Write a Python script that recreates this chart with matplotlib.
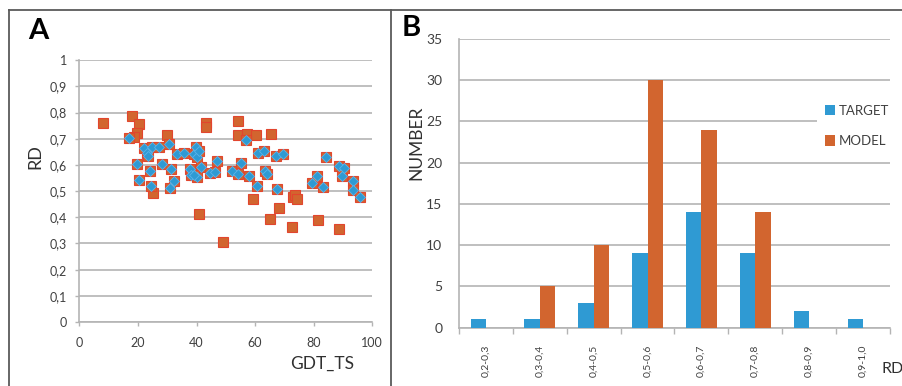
import numpy as np
import matplotlib
matplotlib.use("Agg")
import matplotlib.pyplot as plt
from matplotlib.lines import Line2D

plt.rcParams['font.family'] = ['Lato', 'DejaVu Sans']

# panel A: GDT_TS vs RD
# target points (blue diamonds)
target_gdt = [17.1, 19.8, 20.3, 22.1, 23.0, 23.5, 24.7, 24.2, 24.6, 27.3, 28.3, 30.6,
              31.2, 31.1, 32.4, 33.2, 35.8, 37.8, 38.1, 39.1, 39.8, 40.0, 40.0, 40.8,
              41.5, 39.2, 44.6, 46.3, 47.1, 52.2, 54.3, 55.1, 56.8, 57.8, 60.5, 60.9,
              63.1, 63.5, 63.9, 67.1, 67.6, 69.4, 79.5, 81.0, 83.3, 84.1, 88.6, 89.5,
              90.4, 93.3, 93.3, 95.8]
target_rd = [0.705, 0.604, 0.543, 0.664, 0.645, 0.634, 0.668, 0.578, 0.521, 0.670, 0.604, 0.680,
             0.583, 0.511, 0.539, 0.642, 0.647, 0.583, 0.562, 0.642, 0.670, 0.632, 0.555, 0.655,
             0.594, 0.560, 0.571, 0.575, 0.617, 0.577, 0.566, 0.609, 0.696, 0.558, 0.521, 0.645,
             0.655, 0.577, 0.564, 0.634, 0.507, 0.642, 0.530, 0.558, 0.515, 0.629, 0.597, 0.559,
             0.587, 0.540, 0.504, 0.479]
# model points without a target on top (orange squares)
model_gdt_extra = [8.2, 17.9, 20.5, 19.8, 18.5, 29.8, 43.2, 43.2, 54.3, 54.0, 57.3, 60.2,
                   65.3, 41.0, 49.1, 25.0, 59.2, 65.1, 68.3, 72.8, 73.6, 74.4, 72.7, 81.6, 88.7]
model_rd_extra = [0.759, 0.789, 0.757, 0.721, 0.708, 0.715, 0.762, 0.746, 0.769, 0.715, 0.718, 0.715,
                  0.718, 0.414, 0.304, 0.492, 0.469, 0.392, 0.434, 0.479, 0.485, 0.470, 0.363, 0.389, 0.354]

# panel B: histogram of RD
bins = ['0,2-0,3', '0,3-0,4', '0,4-0,5', '0,5-0,6', '0,6-0,7', '0,7-0,8', '0,8-0,9', '0,9-1,0']
target_counts = [1, 1, 3, 9, 14, 9, 2, 1]
model_counts = [0, 5, 10, 30, 24, 14, 0, 0]

W, H = 903, 386
blue = '#2F9AD3'
orange = '#D2652F'
grid_c = '#B4B4B4'
txt_c = '#404040'

fig = plt.figure(figsize=(W / 100, H / 100), dpi=100)


def px_axes(x0, y0, x1, y1):
    return fig.add_axes([x0 / W, 1 - y1 / H, (x1 - x0) / W, (y1 - y0) / H])


# ---- panel A ----
axA = px_axes(79.3, 60.3, 372.3, 322)
model_gdt = model_gdt_extra + target_gdt
model_rd = model_rd_extra + target_rd
axA.plot(model_gdt, model_rd, ls='none', marker='s', ms=7.6, mfc=orange, mec='#E2452E', mew=0.8)
axA.plot(target_gdt, target_rd, ls='none', marker='D', ms=5.2, mfc=blue, mec='#5BB4EA', mew=0.6)
axA.set_xlim(0, 100)
axA.set_ylim(0, 1)
axA.set_xticks(np.arange(0, 101, 20))
axA.set_yticks(np.arange(0, 1.01, 0.1))
axA.set_yticklabels(['0' if v == 0 else ('1' if v == 1 else ('%.1f' % v).replace('.', ','))
                     for v in np.arange(0, 1.01, 0.1)])
axA.yaxis.grid(True, color=grid_c, lw=1.2)
axA.set_axisbelow(True)
for s in ['top', 'right']:
    axA.spines[s].set_visible(False)
for s in ['left', 'bottom']:
    axA.spines[s].set_color(grid_c)
    axA.spines[s].set_linewidth(1.2)
axA.tick_params(axis='both', colors=grid_c, length=3, width=1, labelsize=9, labelcolor=txt_c)
axA.tick_params(axis='x', pad=8)
axA.tick_params(axis='y', pad=6)

# ---- panel B ----
axB = px_axes(459, 39, 890, 327.7)
x = np.arange(len(bins))
w = 0.285
axB.bar(x - w / 2, target_counts, w, color=blue, label='TARGET', zorder=3)
axB.bar(x + w / 2, model_counts, w, color=orange, label='MODEL', zorder=3)
axB.set_xlim(-0.5, len(bins) - 0.5)
axB.set_ylim(0, 35)
axB.set_yticks(np.arange(0, 36, 5))
axB.set_xticks(x)
axB.set_xticklabels(bins, rotation=90, color=txt_c,
                    family=['Liberation Sans Narrow', 'Lato'], fontsize=7.5)
axB.set_xticks(np.arange(-0.5, len(bins), 1), minor=True)
axB.tick_params(axis='x', which='major', length=0, pad=12)
axB.tick_params(axis='x', which='minor', length=4, color=grid_c, width=1)
axB.tick_params(axis='y', length=0, pad=12, labelsize=10, labelcolor=txt_c)
axB.yaxis.grid(True, color=grid_c, lw=1.2)
axB.set_axisbelow(True)
for s in ['top', 'right']:
    axB.spines[s].set_visible(False)
for s in ['left', 'bottom']:
    axB.spines[s].set_color(grid_c)
    axB.spines[s].set_linewidth(1.2)
leg = axB.legend(loc='upper left', bbox_to_anchor=(0.83, 0.80), frameon=True, fontsize=9.5,
                 handlelength=0.8, handleheight=0.8, handletextpad=0.3, labelspacing=1.4,
                 borderpad=0.6, borderaxespad=0, fancybox=False, edgecolor='none',
                 facecolor='white', framealpha=1)
for t in leg.get_texts():
    t.set_color(txt_c)

# axis titles placed like the original Excel layout
fig.text(35 / W, 1 - 157 / H, 'RD', rotation=90, ha='center', va='center', fontsize=13, color='#303030')
fig.text(322 / W, 1 - 364 / H, 'GDT_TS', ha='center', va='center', fontsize=12.5, color='#303030')
fig.text(416 / W, 1 - 143 / H, 'NUMBER', rotation=90, ha='center', va='center', fontsize=12.5, color='#303030')
fig.text(882 / W, 1 - 369 / H, 'RD', ha='left', va='center', fontsize=11.5, color='#303030')

# panel letters
fig.text(38 / W, 1 - 31 / H, 'A', ha='center', va='center', fontsize=21, fontweight='bold')
fig.text(411 / W, 1 - 28 / H, 'B', ha='center', va='center', fontsize=21, fontweight='bold')

# panel borders
bc = '#5A5A5A'
fig.add_artist(Line2D([9.5 / W, 1], [1 - 9.5 / H, 1 - 9.5 / H], color=bc, lw=1.3))
fig.add_artist(Line2D([9.5 / W, 9.5 / W], [0, 1 - 9.5 / H], color=bc, lw=1.3))
fig.add_artist(Line2D([391 / W, 391 / W], [0, 1 - 9.5 / H], color=bc, lw=1.3))

fig.savefig('out.png', dpi=100)
